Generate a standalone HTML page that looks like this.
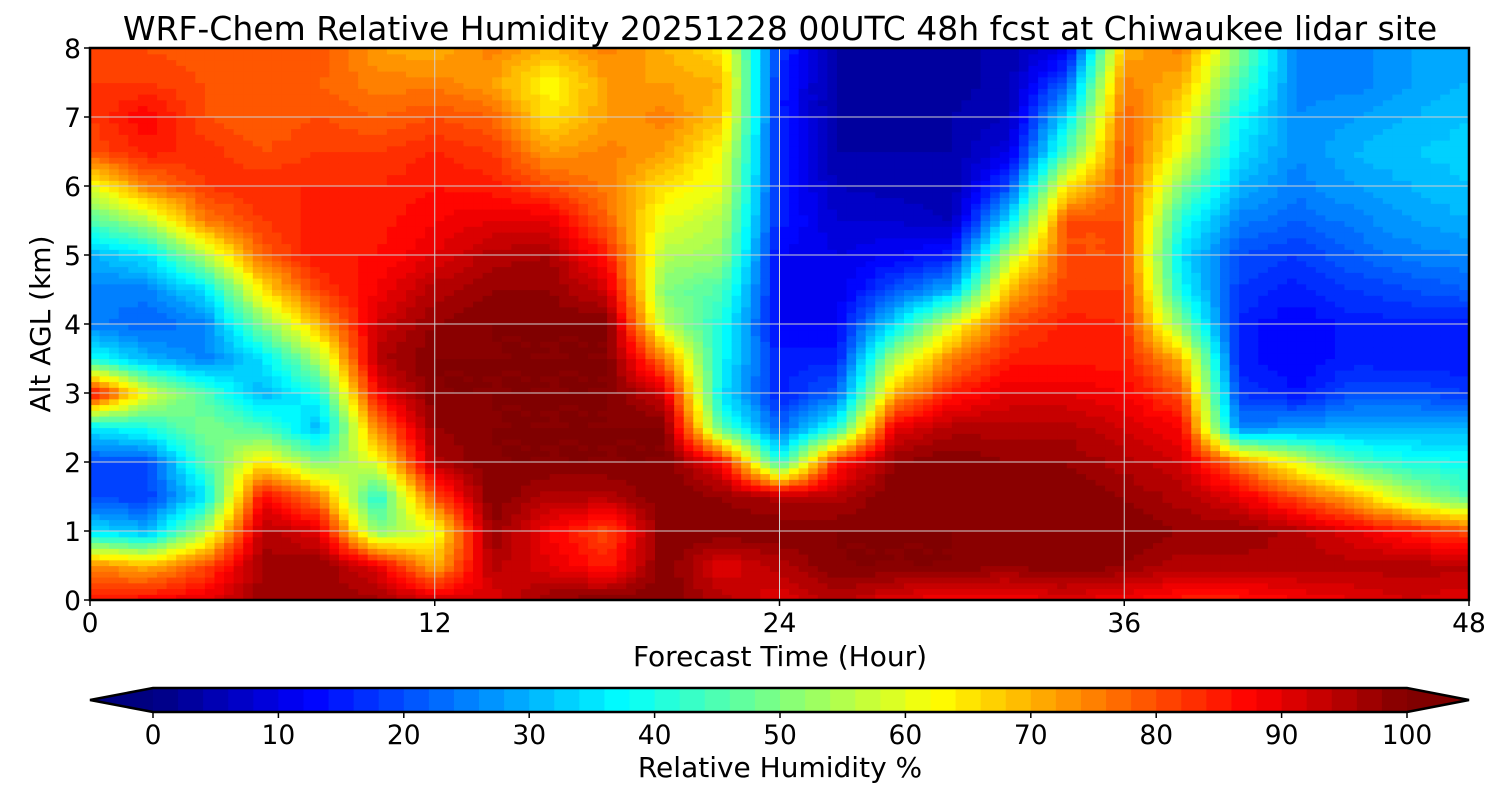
<!DOCTYPE html>
<html><head><meta charset="utf-8">
<style>
html,body{margin:0;padding:0;background:#fff;}
svg{display:block;font-family:"DejaVu Sans","Liberation Sans",sans-serif;}
</style></head>
<body>
<svg id="chart" width="1500" height="800" viewBox="0 0 1500 800" xmlns="http://www.w3.org/2000/svg">
<defs>
<clipPath id="plotclip"><rect x="90" y="48" width="1379" height="552"/></clipPath>
</defs>
<text x="780" y="40" font-size="33" text-anchor="middle">WRF-Chem Relative Humidity 20251228 00UTC 48h fcst at Chiwaukee lidar site</text>
<g id="heat" clip-path="url(#plotclip)"></g>
<g id="grid"></g>
<rect x="90" y="48" width="1379" height="552" fill="none" stroke="#000" stroke-width="2.5"/>
<g id="axes"></g>
<text x="780" y="666" font-size="28" text-anchor="middle">Forecast Time (Hour)</text>
<text transform="translate(50,324) rotate(-90)" font-size="28" text-anchor="middle">Alt AGL (km)</text>
<g id="cbar"></g>
<text x="780" y="777" font-size="28" text-anchor="middle">Relative Humidity %</text>
</svg>
<script>
const hours=[0,2,4,6,8,10,12,14,16,18,20,22,24,26,28,30,32,34,36,38,40,42,44,46,48];
const alts=[0,0.5,1,1.5,2,2.5,3,3.5,4,4.5,5,5.5,6,6.5,7,7.5,8];
// rh[i] = profile at hours[i], bottom to top
const rh=[
[85,75,35,20,20,35,90,40,25,25,30,45,60,80,82,82,82],
[88,70,30,18,20,40,60,30,22,25,35,55,75,85,88,82,80],
[90,80,55,35,45,50,45,25,25,35,55,75,82,83,80,80,78],
[97,97,95,88,65,45,30,35,50,65,78,82,84,80,78,80,80],
[97,98,90,75,50,30,40,55,70,82,86,85,84,82,80,78,80],
[97,90,50,40,60,75,88,95,92,88,86,85,84,82,78,75,72],
[92,70,60,80,95,98,100,100,98,95,90,88,86,84,80,75,70],
[90,95,98,100,100,100,100,100,100,98,95,90,85,82,78,72,75],
[98,90,88,95,100,100,100,100,100,98,96,90,80,72,65,62,70],
[100,85,80,95,100,100,100,100,100,92,85,78,75,75,72,72,75],
[100,100,100,100,100,100,92,75,55,50,55,60,65,72,75,72,70],
[95,90,100,98,88,45,35,38,40,45,52,55,60,62,68,70,65],
[90,95,100,95,40,22,15,15,12,12,12,15,15,15,15,15,18],
[95,100,100,95,85,40,22,15,12,10,10,8,6,4,3,3,3],
[90,100,100,100,98,90,70,55,35,20,12,8,5,4,3,3,3],
[88,100,100,98,100,95,85,75,60,30,15,6,4,4,4,3,3],
[88,98,98,100,98,95,90,85,80,70,55,35,20,10,6,5,5],
[90,100,100,100,98,95,90,85,85,82,80,80,65,45,35,22,10],
[88,98,100,98,95,92,88,85,84,82,80,80,80,80,78,75,70],
[85,95,98,95,92,88,80,70,50,38,35,40,50,60,65,70,75],
[85,95,98,90,75,25,18,15,15,18,20,25,30,35,38,45,50],
[88,95,95,80,60,28,14,12,12,15,18,22,25,26,26,25,25],
[90,95,90,70,45,30,20,15,15,18,22,25,28,30,28,25,25],
[92,95,85,55,40,30,20,14,15,20,25,28,30,32,30,28,28],
[90,95,80,45,38,30,18,14,15,22,26,30,32,33,32,30,30]
];
const xTicks=[0,12,24,36,48];
const yTicks=[0,1,2,3,4,5,6,7,8];
const cbTicks=[0,10,20,30,40,50,60,70,80,90,100];

const NS="http://www.w3.org/2000/svg";
const X0=90,X1=1469,Y0=600,Y1=48;
const xs=h=>X0+(h-0)/(48-0)*(X1-X0);
const ys=a=>Y0-(a-0)/(8-0)*(Y0-Y1);
function jet(v){
  let t=Math.max(0,Math.min(1,v/100));
  const f=c=>Math.max(0,Math.min(1,1.5-Math.abs(4*t-c)));
  const r=f(3),g=f(2),b=f(1);
  return "rgb("+Math.round(r*255)+","+Math.round(g*255)+","+Math.round(b*255)+")";
}
function level(v){return Math.min(99,Math.floor(Math.max(0,v)/2)*2)+1;}
function mk(tag,attrs,parent){const e=document.createElementNS(NS,tag);for(const k in attrs)e.setAttribute(k,attrs[k]);parent.appendChild(e);return e;}

const heat=document.getElementById("heat");
const SUB=6;
for(let i=0;i<hours.length-1;i++){
  for(let j=0;j<alts.length-1;j++){
    const v00=rh[i][j],v10=rh[i+1][j],v01=rh[i][j+1],v11=rh[i+1][j+1];
    for(let a=0;a<SUB;a++){
      for(let b=0;b<SUB;b++){
        const u=(a+0.5)/SUB,w=(b+0.5)/SUB;
        const v=v00*(1-u)*(1-w)+v10*u*(1-w)+v01*(1-u)*w+v11*u*w;
        const h0=hours[i]+(hours[i+1]-hours[i])*a/SUB, h1=hours[i]+(hours[i+1]-hours[i])*(a+1)/SUB;
        const a0=alts[j]+(alts[j+1]-alts[j])*b/SUB, a1=alts[j]+(alts[j+1]-alts[j])*(b+1)/SUB;
        const r=mk("rect",{x:xs(h0),y:ys(a1),width:xs(h1)-xs(h0)+0.6,height:ys(a0)-ys(a1)+0.6,fill:jet(level(v))},heat);
        
        
      }
    }
  }
}
const grid=document.getElementById("grid"),axes=document.getElementById("axes");
xTicks.forEach(t=>{
  const l=mk("line",{x1:xs(t),x2:xs(t),y1:Y1,y2:Y0,stroke:"#d0d0d0","stroke-width":1},grid);
  
  
  mk("line",{x1:xs(t),x2:xs(t),y1:Y0,y2:Y0+6,stroke:"#000","stroke-width":1.5},axes);
  const tx=mk("text",{x:xs(t),y:Y0+32,"font-size":26.5,"text-anchor":"middle"},axes);
  tx.textContent=t;
  
  
});
yTicks.forEach(t=>{
  const l=mk("line",{x1:X0,x2:X1,y1:ys(t),y2:ys(t),stroke:"#d0d0d0","stroke-width":1},grid);
  
  
  mk("line",{x1:X0-6,x2:X0,y1:ys(t),y2:ys(t),stroke:"#000","stroke-width":1.5},axes);
  const tx=mk("text",{x:X0-9,y:ys(t)+10,"font-size":26.5,"text-anchor":"end"},axes);
  tx.textContent=t;
  
  
});
const cb=document.getElementById("cbar");
const C0=153,C1=1407,CT=688,CB=712,CM=700;
const cx=v=>C0+v/100*(C1-C0);
for(let v=0;v<100;v+=2){
  const r=mk("rect",{x:cx(v),y:CT,width:cx(v+2)-cx(v)+0.5,height:CB-CT,fill:jet(v+1)},cb);
  
  
}
const lt=mk("polygon",{points:`${C0},${CT} 90,${CM} ${C0},${CB}`,fill:jet(0)},cb);


const rt=mk("polygon",{points:`${C1},${CT} 1469,${CM} ${C1},${CB}`,fill:jet(100)},cb);


mk("polygon",{points:`90,${CM} ${C0},${CT} ${C1},${CT} 1469,${CM} ${C1},${CB} ${C0},${CB}`,fill:"none",stroke:"#000","stroke-width":2.5},cb);
cbTicks.forEach(t=>{
  mk("line",{x1:cx(t),x2:cx(t),y1:CB,y2:CB+6,stroke:"#000","stroke-width":1.5},cb);
  const tx=mk("text",{x:cx(t),y:CB+32,"font-size":26.5,"text-anchor":"middle"},cb);
  tx.textContent=t;
  
  
});
</script>
</body></html>
